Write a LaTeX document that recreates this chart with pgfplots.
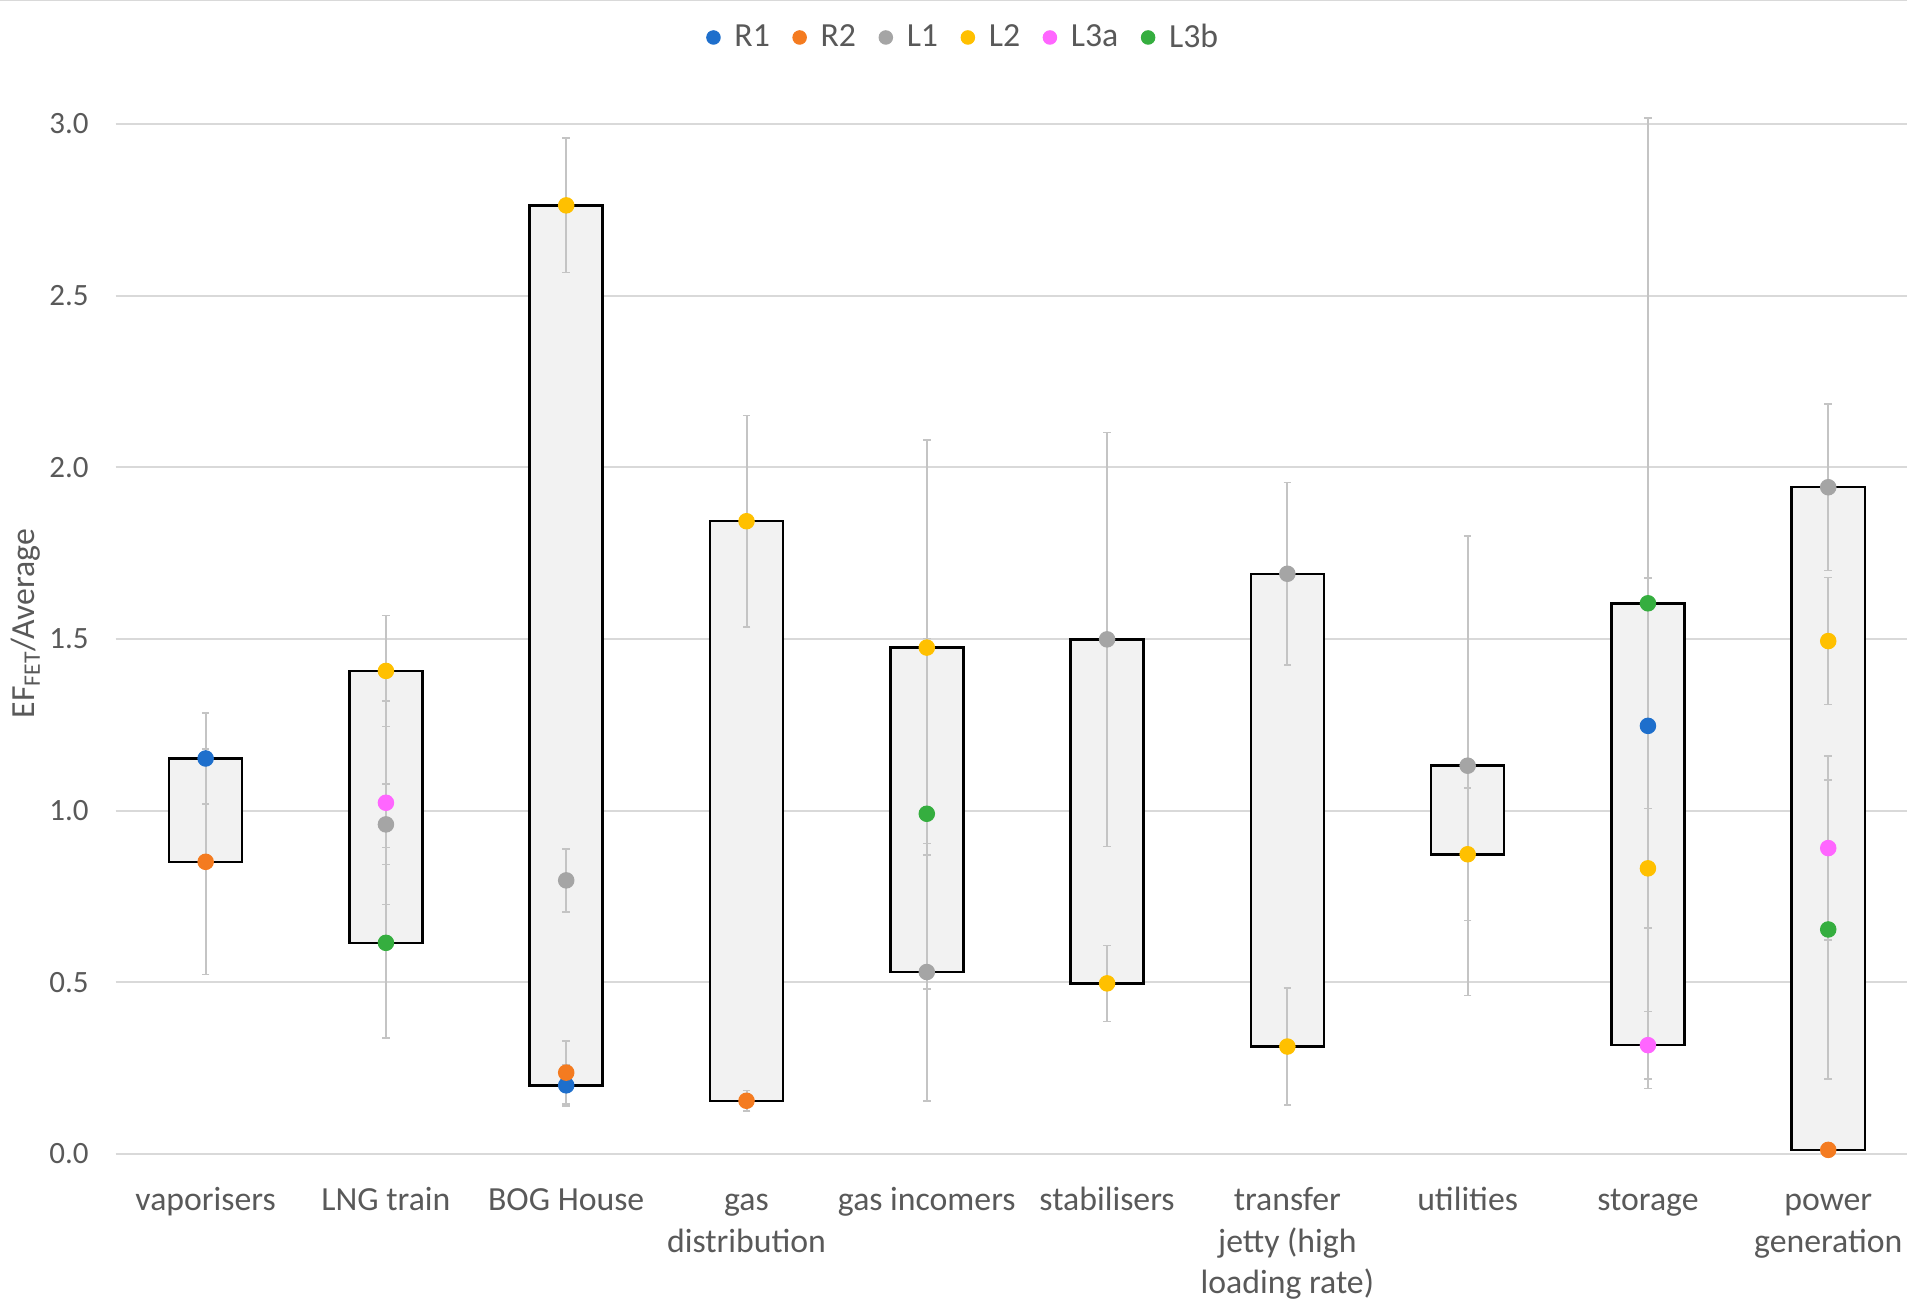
\documentclass[border=0pt]{standalone}
\usepackage{fontspec}
\setmainfont{Carlito}
\usepackage{pgfplots}
\usepackage{pgfplotstable}
\pgfplotsset{compat=1.18}
\definecolor{cR1}{HTML}{1E6FCC}
\definecolor{cR2}{HTML}{F47B20}
\definecolor{cL1}{HTML}{A5A5A5}
\definecolor{cL2}{HTML}{FFC000}
\definecolor{cL3a}{HTML}{FF66FF}
\definecolor{cL3b}{HTML}{35AE3F}
\definecolor{gridc}{HTML}{D9D9D9}
\definecolor{errc}{HTML}{C4C4C4}
\definecolor{boxfill}{HTML}{F2F2F2}
\definecolor{tickc}{HTML}{595959}

\pgfplotstableread{
x lo hi
0 0.851 1.152
1 0.615 1.407
2 0.200 2.763
3 0.155 1.843
4 0.530 1.475
5 0.497 1.499
6 0.313 1.690
7 0.873 1.131
8 0.317 1.604
9 0.012 1.942
}\boxes

\pgfplotstableread{
x y e
0 1.152 0.132
2 0.200 0.060
8 1.247 0.431
}\RA
\pgfplotstableread{
x y e
0 0.851 0.328
2 0.237 0.092
3 0.155 0.030
9 0.012 0.000
}\RB
\pgfplotstableread{
x y e
1 0.960 0.117
2 0.797 0.092
4 0.530 0.375
5 1.499 0.603
6 1.690 0.266
7 1.131 0.669
9 1.942 0.243
}\LA
\pgfplotstableread{
x y e
1 1.407 0.162
2 2.763 0.196
3 1.843 0.308
4 1.475 0.604
5 0.497 0.111
6 0.313 0.171
7 0.873 0.193
8 0.832 0.174
9 1.494 0.185
}\LB
\pgfplotstableread{
x y e
1 1.023 0.296
8 0.317 0.098
9 0.891 0.268
}\LCa
\pgfplotstableread{
x y e
1 0.615 0.277
4 0.991 0.510
8 1.604 1.413
9 0.654 0.436
}\LCb

\pgfplotsset{
  base/.style={
    at={(46.2pt,58pt)}, anchor=south west,
    width=716.6pt, height=412pt, scale only axis,
    xmin=-0.5, xmax=9.437, ymin=0, ymax=3,
    clip=false,
    font=\fontsize{13.5}{16.6}\selectfont,
  }
}

\begin{document}
\begin{tikzpicture}
\useasboundingbox (0pt,0pt) rectangle (762.8pt,519.6pt);
\clip (0pt,0pt) rectangle (762.8pt,519.6pt);
\draw[gridc, line width=1pt] (0pt,519.6pt) -- (762.8pt,519.6pt);

\begin{axis}[base,
  ybar stacked, bar width=0.405,
  axis line style={draw=none},
  major tick length=0pt,
  ymajorgrids, grid style={color=gridc, line width=0.8pt},
  ytick={0,0.5,1,1.5,2,2.5,3},
  xtick={0,1,2,3,4,5,6,7,8,9},
  xticklabels={{\strut vaporisers}, {\strut LNG train}, {\strut BOG House}, {\strut gas\\\strut distribution}, {\strut gas incomers}, {\strut stabilisers}, {\strut transfer\\\strut jetty (high\\\strut loading rate)}, {\strut utilities}, {\strut storage}, {\strut power\\\strut generation}},
  ticklabel style={color=tickc},
  xticklabel style={align=center, anchor=north, yshift=-7.5pt},
  yticklabel style={font=\fontsize{12.4}{15}\selectfont, /pgf/number format/fixed, /pgf/number format/fixed zerofill, /pgf/number format/precision=1, /pgf/number format/assume math mode=true, xshift=-7.2pt},
  ylabel={EF\textsubscript{FET}/Average},
  every axis y label/.style={at={(axis description cs:-0.0502,0.515)}, rotate=90, anchor=center, color=tickc},
]
\addplot[draw=none, fill=none] table[x=x, y=lo]{\boxes};
\addplot[draw=black, line width=1pt, fill=boxfill] table[x=x, y expr=\thisrow{hi}-\thisrow{lo}]{\boxes};
\end{axis}

\begin{axis}[base, hide axis,
  error bars/y dir=both, error bars/y explicit,
  error bars/error bar style={color=errc, line width=0.8pt},
  error bars/error mark options={color=errc, mark size=1.5pt, line width=0.6pt, rotate=90},
  legend columns=6,
  legend style={at={(0.474,1.084)}, anchor=center, draw=none, fill=none, text=tickc,
    /tikz/every even column/.append style={column sep=7pt}},
  legend image code/.code={\draw[#1, mark size=2.7pt] plot coordinates {(0pt,0pt)}; \path (-2.7pt,0pt) (6.2pt,0pt);},
]
\addplot[only marks, mark=*, mark size=3.1pt, color=cR1] table[x=x, y=y, y error=e]{\RA};
\addlegendentry{R1}
\addplot[only marks, mark=*, mark size=3.1pt, color=cR2] table[x=x, y=y, y error=e]{\RB};
\addlegendentry{R2}
\addplot[only marks, mark=*, mark size=3.1pt, color=cL1] table[x=x, y=y, y error=e]{\LA};
\addlegendentry{L1}
\addplot[only marks, mark=*, mark size=3.1pt, color=cL2] table[x=x, y=y, y error=e]{\LB};
\addlegendentry{L2}
\addplot[only marks, mark=*, mark size=3.1pt, color=cL3a] table[x=x, y=y, y error=e]{\LCa};
\addlegendentry{L3a}
\addplot[only marks, mark=*, mark size=3.1pt, color=cL3b] table[x=x, y=y, y error=e]{\LCb};
\addlegendentry{L3b}
\end{axis}
\end{tikzpicture}
\end{document}
